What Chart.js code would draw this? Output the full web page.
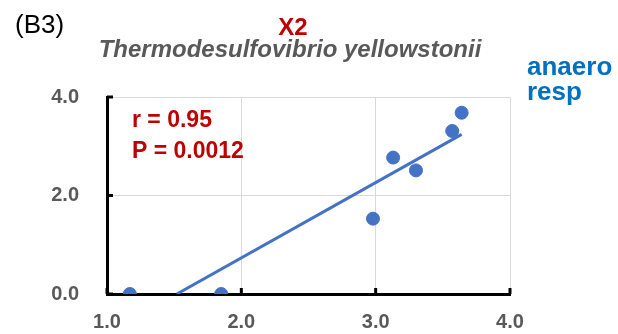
<!DOCTYPE html>
<html>
<head>
<meta charset="utf-8">
<script src="https://cdn.jsdelivr.net/npm/chart.js@4"></script>
<style>
  html, body { margin: 0; padding: 0; background: #fff; }
  #wrap { width: 618px; height: 334px; position: relative; }
</style>
</head>
<body>
<div id="wrap"><canvas id="chart"></canvas></div>
<script>
// valores
const xValues = [1.17, 1.85, 2.98, 3.13, 3.30, 3.57, 3.64];
const yValues = [0, 0, 1.53, 2.77, 2.51, 3.31, 3.68];
const trendX = [1.52, 3.64];
const trendY = [0, 3.24];
const xTicks = [1.0, 2.0, 3.0, 4.0];
const yTicks = [0.0, 2.0, 4.0];

const FONT = '"Liberation Sans", Arial, sans-serif';
const azul = '#4472C4';

const textos = [
  { t: '(B3)', x: 15, y: 33, font: '26px ' + FONT, color: '#000', align: 'left' },
  { t: 'X2', x: 293, y: 35, font: 'bold 24px ' + FONT, color: '#C00000', align: 'center' },
  { t: 'Thermodesulfovibrio yellowstonii', x: 290, y: 57, font: 'italic bold 24px ' + FONT, color: '#595959', align: 'center' },
  { t: 'anaero', x: 527, y: 75, font: 'bold 26px ' + FONT, color: '#0070C0', align: 'left' },
  { t: 'resp', x: 527, y: 100, font: 'bold 26px ' + FONT, color: '#0070C0', align: 'left' },
  { t: 'r = 0.95', x: 132, y: 127, font: 'bold 23px ' + FONT, color: '#C00000', align: 'left' },
  { t: 'P = 0.0012', x: 132, y: 158, font: 'bold 23px ' + FONT, color: '#C00000', align: 'left' }
];

const pluginTextos = {
  id: 'textos',
  afterDraw(chart) {
    const ctx = chart.ctx;
    ctx.save();
    ctx.textBaseline = 'alphabetic';
    textos.forEach(o => {
      ctx.font = o.font;
      ctx.fillStyle = o.color;
      ctx.textAlign = o.align;
      ctx.fillText(o.t, o.x, o.y);
    });
    ctx.restore();
  }
};

// marcas de eje hacia adentro
const pluginTicks = {
  id: 'ticksDentro',
  beforeDatasetsDraw(chart) {
    const ctx = chart.ctx;
    const xs = chart.scales.x, ys = chart.scales.y;
    const a = chart.chartArea;
    ctx.save();
    ctx.strokeStyle = '#000';
    ctx.lineWidth = 3;
    yTicks.forEach(v => {
      const py = ys.getPixelForValue(v);
      ctx.beginPath();
      ctx.moveTo(a.left, py);
      ctx.lineTo(a.left + 6, py);
      ctx.stroke();
    });
    xTicks.forEach(v => {
      const px = xs.getPixelForValue(v);
      ctx.beginPath();
      ctx.moveTo(px, a.bottom);
      ctx.lineTo(px, a.bottom - 6);
      ctx.stroke();
    });
    ctx.restore();
  }
};

new Chart(document.getElementById('chart'), {
  type: 'scatter',
  data: {
    datasets: [
      {
        label: 'puntos',
        data: xValues.map((x, i) => ({ x: x, y: yValues[i] })),
        backgroundColor: azul,
        borderColor: azul,
        pointRadius: 6.5,
        pointHoverRadius: 6.5,
        order: 1
      },
      {
        label: 'tendencia',
        type: 'line',
        data: trendX.map((x, i) => ({ x: x, y: trendY[i] })),
        borderColor: azul,
        borderWidth: 3,
        pointRadius: 0,
        fill: false,
        order: 2
      }
    ]
  },
  options: {
    responsive: true,
    maintainAspectRatio: false,
    animation: false,
    layout: { padding: { left: 0, right: 108, top: 97, bottom: 0 } },
    plugins: { legend: { display: false }, tooltip: { enabled: false } },
    scales: {
      x: {
        type: 'linear',
        min: 1,
        max: 4,
        afterBuildTicks: s => { s.ticks = xTicks.map(v => ({ value: v })); },
        afterFit: s => { s.height = 38; },
        grid: { color: '#d9d9d9', lineWidth: 1, drawTicks: false },
        border: { color: '#000', width: 3 },
        ticks: {
          padding: 16,
          color: '#595959',
          font: { family: FONT, size: 20, weight: 'bold' },
          callback: v => v.toFixed(1)
        }
      },
      y: {
        type: 'linear',
        min: 0,
        max: 4,
        afterBuildTicks: s => { s.ticks = yTicks.map(v => ({ value: v })); },
        afterFit: s => { s.width = 107; },
        grid: { color: '#d9d9d9', lineWidth: 1, drawTicks: false },
        border: { color: '#000', width: 3 },
        ticks: {
          padding: 28,
          color: '#595959',
          font: { family: FONT, size: 20, weight: 'bold' },
          callback: v => v.toFixed(1)
        }
      }
    }
  },
  plugins: [pluginTicks, pluginTextos]
});
</script>
</body>
</html>
